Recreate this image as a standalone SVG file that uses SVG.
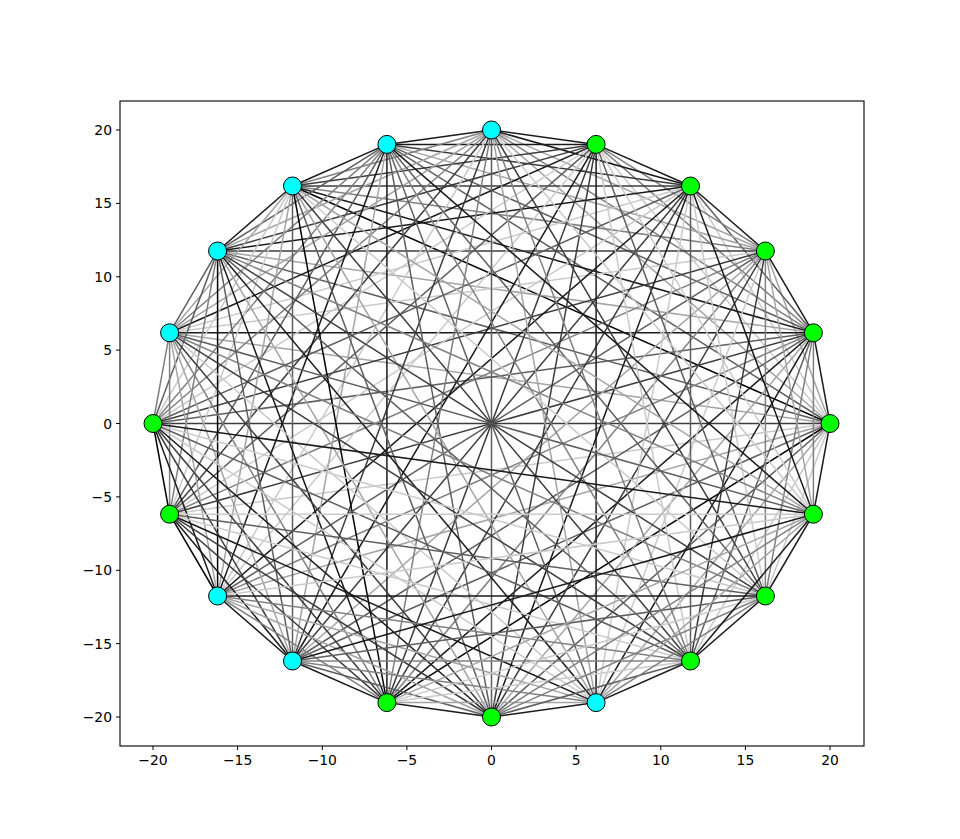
<svg xmlns="http://www.w3.org/2000/svg" width="960" height="839" viewBox="0 0 960 839">
<style>
#edges path{fill:none;stroke-width:1.5}
.c0{stroke:#000}.c1{stroke:#1a1a1a}.c2{stroke:#3c3c3c}.c3{stroke:#5e5e5e}.c4{stroke:#808080}.c5{stroke:#a4a4a4}.c6{stroke:#cacaca}
.g circle{fill:#00ff00;stroke:#000;stroke-width:1}
.b circle{fill:#00ffff;stroke:#000;stroke-width:1}
.tk{stroke:#000;stroke-width:1}
.tl{font-family:"DejaVu Sans",sans-serif;font-size:13.9px;fill:#000}
</style>
<rect width="960" height="839" fill="#fff"/>
<g id="edges">
<path class="c1" d="M830 423.5L813.4 332.8"/>
<path class="c5" d="M830 423.5L765.4 251"/>
<path class="c6" d="M830 423.5L690.5 186"/>
<path class="c6" d="M830 423.5L596.1 144.4"/>
<path class="c5" d="M830 423.5L491.5 130"/>
<path class="c3" d="M830 423.5L386.9 144.4"/>
<path class="c0" d="M830 423.5L292.5 186"/>
<path class="c3" d="M830 423.5L217.6 251"/>
<path class="c5" d="M830 423.5L169.6 332.8"/>
<path class="c2" d="M830 423.5L153 423.5"/>
<path class="c6" d="M830 423.5L169.6 514.2"/>
<path class="c5" d="M830 423.5L217.6 596"/>
<path class="c3" d="M830 423.5L292.5 661"/>
<path class="c0" d="M830 423.5L386.9 702.6"/>
<path class="c3" d="M830 423.5L491.5 717"/>
<path class="c5" d="M830 423.5L596.1 702.6"/>
<path class="c6" d="M830 423.5L690.5 661"/>
<path class="c6" d="M830 423.5L765.4 596"/>
<path class="c1" d="M830 423.5L813.4 514.2"/>
<path class="c1" d="M813.4 332.8L765.4 251"/>
<path class="c3" d="M813.4 332.8L690.5 186"/>
<path class="c4" d="M813.4 332.8L596.1 144.4"/>
<path class="c4" d="M813.4 332.8L491.5 130"/>
<path class="c3" d="M813.4 332.8L386.9 144.4"/>
<path class="c1" d="M813.4 332.8L292.5 186"/>
<path class="c5" d="M813.4 332.8L217.6 251"/>
<path class="c1" d="M813.4 332.8L169.6 332.8"/>
<path class="c3" d="M813.4 332.8L153 423.5"/>
<path class="c2" d="M813.4 332.8L169.6 514.2"/>
<path class="c4" d="M813.4 332.8L217.6 596"/>
<path class="c3" d="M813.4 332.8L292.5 661"/>
<path class="c1" d="M813.4 332.8L386.9 702.6"/>
<path class="c5" d="M813.4 332.8L491.5 717"/>
<path class="c1" d="M813.4 332.8L596.1 702.6"/>
<path class="c3" d="M813.4 332.8L690.5 661"/>
<path class="c4" d="M813.4 332.8L765.4 596"/>
<path class="c4" d="M813.4 332.8L813.4 514.2"/>
<path class="c1" d="M765.4 251L690.5 186"/>
<path class="c4" d="M765.4 251L596.1 144.4"/>
<path class="c5" d="M765.4 251L491.5 130"/>
<path class="c5" d="M765.4 251L386.9 144.4"/>
<path class="c4" d="M765.4 251L292.5 186"/>
<path class="c2" d="M765.4 251L217.6 251"/>
<path class="c6" d="M765.4 251L169.6 332.8"/>
<path class="c2" d="M765.4 251L153 423.5"/>
<path class="c4" d="M765.4 251L169.6 514.2"/>
<path class="c3" d="M765.4 251L217.6 596"/>
<path class="c5" d="M765.4 251L292.5 661"/>
<path class="c4" d="M765.4 251L386.9 702.6"/>
<path class="c2" d="M765.4 251L491.5 717"/>
<path class="c6" d="M765.4 251L596.1 702.6"/>
<path class="c2" d="M765.4 251L690.5 661"/>
<path class="c4" d="M765.4 251L765.4 596"/>
<path class="c5" d="M765.4 251L813.4 514.2"/>
<path class="c1" d="M690.5 186L596.1 144.4"/>
<path class="c1" d="M690.5 186L491.5 130"/>
<path class="c2" d="M690.5 186L386.9 144.4"/>
<path class="c2" d="M690.5 186L292.5 186"/>
<path class="c1" d="M690.5 186L217.6 251"/>
<path class="c6" d="M690.5 186L169.6 332.8"/>
<path class="c3" d="M690.5 186L153 423.5"/>
<path class="c6" d="M690.5 186L169.6 514.2"/>
<path class="c1" d="M690.5 186L217.6 596"/>
<path class="c2" d="M690.5 186L292.5 661"/>
<path class="c2" d="M690.5 186L386.9 702.6"/>
<path class="c1" d="M690.5 186L491.5 717"/>
<path class="c6" d="M690.5 186L596.1 702.6"/>
<path class="c3" d="M690.5 186L690.5 661"/>
<path class="c6" d="M690.5 186L765.4 596"/>
<path class="c1" d="M690.5 186L813.4 514.2"/>
<path class="c1" d="M596.1 144.4L491.5 130"/>
<path class="c1" d="M596.1 144.4L386.9 144.4"/>
<path class="c2" d="M596.1 144.4L292.5 186"/>
<path class="c2" d="M596.1 144.4L217.6 251"/>
<path class="c1" d="M596.1 144.4L169.6 332.8"/>
<path class="c6" d="M596.1 144.4L153 423.5"/>
<path class="c3" d="M596.1 144.4L169.6 514.2"/>
<path class="c6" d="M596.1 144.4L217.6 596"/>
<path class="c1" d="M596.1 144.4L292.5 661"/>
<path class="c2" d="M596.1 144.4L386.9 702.6"/>
<path class="c2" d="M596.1 144.4L491.5 717"/>
<path class="c1" d="M596.1 144.4L596.1 702.6"/>
<path class="c6" d="M596.1 144.4L690.5 661"/>
<path class="c3" d="M596.1 144.4L765.4 596"/>
<path class="c6" d="M596.1 144.4L813.4 514.2"/>
<path class="c1" d="M491.5 130L386.9 144.4"/>
<path class="c4" d="M491.5 130L292.5 186"/>
<path class="c5" d="M491.5 130L217.6 251"/>
<path class="c5" d="M491.5 130L169.6 332.8"/>
<path class="c4" d="M491.5 130L153 423.5"/>
<path class="c2" d="M491.5 130L169.6 514.2"/>
<path class="c6" d="M491.5 130L217.6 596"/>
<path class="c2" d="M491.5 130L292.5 661"/>
<path class="c4" d="M491.5 130L386.9 702.6"/>
<path class="c3" d="M491.5 130L491.5 717"/>
<path class="c5" d="M491.5 130L596.1 702.6"/>
<path class="c4" d="M491.5 130L690.5 661"/>
<path class="c2" d="M491.5 130L765.4 596"/>
<path class="c6" d="M491.5 130L813.4 514.2"/>
<path class="c1" d="M386.9 144.4L292.5 186"/>
<path class="c3" d="M386.9 144.4L217.6 251"/>
<path class="c4" d="M386.9 144.4L169.6 332.8"/>
<path class="c4" d="M386.9 144.4L153 423.5"/>
<path class="c3" d="M386.9 144.4L169.6 514.2"/>
<path class="c1" d="M386.9 144.4L217.6 596"/>
<path class="c5" d="M386.9 144.4L292.5 661"/>
<path class="c1" d="M386.9 144.4L386.9 702.6"/>
<path class="c3" d="M386.9 144.4L491.5 717"/>
<path class="c3" d="M386.9 144.4L596.1 702.6"/>
<path class="c4" d="M386.9 144.4L690.5 661"/>
<path class="c3" d="M386.9 144.4L765.4 596"/>
<path class="c1" d="M386.9 144.4L813.4 514.2"/>
<path class="c1" d="M292.5 186L217.6 251"/>
<path class="c5" d="M292.5 186L169.6 332.8"/>
<path class="c6" d="M292.5 186L153 423.5"/>
<path class="c6" d="M292.5 186L169.6 514.2"/>
<path class="c5" d="M292.5 186L217.6 596"/>
<path class="c3" d="M292.5 186L292.5 661"/>
<path class="c0" d="M292.5 186L386.9 702.6"/>
<path class="c3" d="M292.5 186L491.5 717"/>
<path class="c5" d="M292.5 186L596.1 702.6"/>
<path class="c2" d="M292.5 186L690.5 661"/>
<path class="c6" d="M292.5 186L765.4 596"/>
<path class="c5" d="M292.5 186L813.4 514.2"/>
<path class="c3" d="M217.6 251L169.6 332.8"/>
<path class="c3" d="M217.6 251L153 423.5"/>
<path class="c4" d="M217.6 251L169.6 514.2"/>
<path class="c0" d="M217.6 251L217.6 596"/>
<path class="c3" d="M217.6 251L292.5 661"/>
<path class="c1" d="M217.6 251L386.9 702.6"/>
<path class="c5" d="M217.6 251L491.5 717"/>
<path class="c1" d="M217.6 251L596.1 702.6"/>
<path class="c3" d="M217.6 251L690.5 661"/>
<path class="c2" d="M217.6 251L765.4 596"/>
<path class="c4" d="M217.6 251L813.4 514.2"/>
<path class="c4" d="M169.6 332.8L153 423.5"/>
<path class="c4" d="M169.6 332.8L169.6 514.2"/>
<path class="c5" d="M169.6 332.8L217.6 596"/>
<path class="c5" d="M169.6 332.8L292.5 661"/>
<path class="c4" d="M169.6 332.8L386.9 702.6"/>
<path class="c2" d="M169.6 332.8L491.5 717"/>
<path class="c6" d="M169.6 332.8L596.1 702.6"/>
<path class="c2" d="M169.6 332.8L690.5 661"/>
<path class="c4" d="M169.6 332.8L765.4 596"/>
<path class="c3" d="M169.6 332.8L813.4 514.2"/>
<path class="c0" d="M153 423.5L169.6 514.2"/>
<path class="c1" d="M153 423.5L217.6 596"/>
<path class="c2" d="M153 423.5L292.5 661"/>
<path class="c2" d="M153 423.5L386.9 702.6"/>
<path class="c1" d="M153 423.5L491.5 717"/>
<path class="c6" d="M153 423.5L596.1 702.6"/>
<path class="c3" d="M153 423.5L690.5 661"/>
<path class="c6" d="M153 423.5L765.4 596"/>
<path class="c1" d="M153 423.5L813.4 514.2"/>
<path class="c0" d="M169.6 514.2L217.6 596"/>
<path class="c1" d="M169.6 514.2L292.5 661"/>
<path class="c2" d="M169.6 514.2L386.9 702.6"/>
<path class="c2" d="M169.6 514.2L491.5 717"/>
<path class="c1" d="M169.6 514.2L596.1 702.6"/>
<path class="c6" d="M169.6 514.2L690.5 661"/>
<path class="c3" d="M169.6 514.2L765.4 596"/>
<path class="c6" d="M169.6 514.2L813.4 514.2"/>
<path class="c1" d="M217.6 596L292.5 661"/>
<path class="c4" d="M217.6 596L386.9 702.6"/>
<path class="c5" d="M217.6 596L491.5 717"/>
<path class="c5" d="M217.6 596L596.1 702.6"/>
<path class="c4" d="M217.6 596L690.5 661"/>
<path class="c1" d="M217.6 596L765.4 596"/>
<path class="c6" d="M217.6 596L813.4 514.2"/>
<path class="c1" d="M292.5 661L386.9 702.6"/>
<path class="c3" d="M292.5 661L491.5 717"/>
<path class="c4" d="M292.5 661L596.1 702.6"/>
<path class="c4" d="M292.5 661L690.5 661"/>
<path class="c3" d="M292.5 661L765.4 596"/>
<path class="c1" d="M292.5 661L813.4 514.2"/>
<path class="c1" d="M386.9 702.6L491.5 717"/>
<path class="c5" d="M386.9 702.6L596.1 702.6"/>
<path class="c6" d="M386.9 702.6L690.5 661"/>
<path class="c6" d="M386.9 702.6L765.4 596"/>
<path class="c5" d="M386.9 702.6L813.4 514.2"/>
<path class="c1" d="M491.5 717L596.1 702.6"/>
<path class="c3" d="M491.5 717L690.5 661"/>
<path class="c4" d="M491.5 717L765.4 596"/>
<path class="c4" d="M491.5 717L813.4 514.2"/>
<path class="c1" d="M596.1 702.6L690.5 661"/>
<path class="c4" d="M596.1 702.6L765.4 596"/>
<path class="c5" d="M596.1 702.6L813.4 514.2"/>
<path class="c1" d="M690.5 661L765.4 596"/>
<path class="c1" d="M690.5 661L813.4 514.2"/>
<path class="c1" d="M765.4 596L813.4 514.2"/>
</g>
<g id="nodes">
<g id="n0" class="g"><circle cx="830" cy="423.5" r="9"/></g>
<g id="n1" class="g"><circle cx="813.4" cy="332.8" r="9"/></g>
<g id="n2" class="g"><circle cx="765.4" cy="251" r="9"/></g>
<g id="n3" class="g"><circle cx="690.5" cy="186" r="9"/></g>
<g id="n4" class="g"><circle cx="596.1" cy="144.4" r="9"/></g>
<g id="n5" class="b"><circle cx="491.5" cy="130" r="9"/></g>
<g id="n6" class="b"><circle cx="386.9" cy="144.4" r="9"/></g>
<g id="n7" class="b"><circle cx="292.5" cy="186" r="9"/></g>
<g id="n8" class="b"><circle cx="217.6" cy="251" r="9"/></g>
<g id="n9" class="b"><circle cx="169.6" cy="332.8" r="9"/></g>
<g id="n10" class="g"><circle cx="153" cy="423.5" r="9"/></g>
<g id="n11" class="g"><circle cx="169.6" cy="514.2" r="9"/></g>
<g id="n12" class="b"><circle cx="217.6" cy="596" r="9"/></g>
<g id="n13" class="b"><circle cx="292.5" cy="661" r="9"/></g>
<g id="n14" class="g"><circle cx="386.9" cy="702.6" r="9"/></g>
<g id="n15" class="g"><circle cx="491.5" cy="717" r="9"/></g>
<g id="n16" class="b"><circle cx="596.1" cy="702.6" r="9"/></g>
<g id="n17" class="g"><circle cx="690.5" cy="661" r="9"/></g>
<g id="n18" class="g"><circle cx="765.4" cy="596" r="9"/></g>
<g id="n19" class="g"><circle cx="813.4" cy="514.2" r="9"/></g>
</g>
<g id="axes">
<rect x="120" y="101" width="744" height="645" fill="none" stroke="#000" stroke-width="1.1"/>
<path class="tk" d="M153 746v4M237.6 746v4M322.3 746v4M406.9 746v4M491.5 746v4M576.1 746v4M660.8 746v4M745.4 746v4M830 746v4M120 130h-4M120 203.4h-4M120 276.8h-4M120 350.1h-4M120 423.5h-4M120 496.9h-4M120 570.3h-4M120 643.6h-4M120 717h-4"/>
<g class="tl" text-anchor="middle">
<text x="153" y="765">−20</text>
<text x="237.6" y="765">−15</text>
<text x="322.3" y="765">−10</text>
<text x="406.9" y="765">−5</text>
<text x="491.5" y="765">0</text>
<text x="576.1" y="765">5</text>
<text x="660.8" y="765">10</text>
<text x="745.4" y="765">15</text>
<text x="830" y="765">20</text>
</g>
<g class="tl" text-anchor="end">
<text x="112" y="135">20</text>
<text x="112" y="208.4">15</text>
<text x="112" y="281.8">10</text>
<text x="112" y="355.1">5</text>
<text x="112" y="428.5">0</text>
<text x="112" y="501.9">−5</text>
<text x="112" y="575.3">−10</text>
<text x="112" y="648.6">−15</text>
<text x="112" y="722">−20</text>
</g>
</g>
</svg>
